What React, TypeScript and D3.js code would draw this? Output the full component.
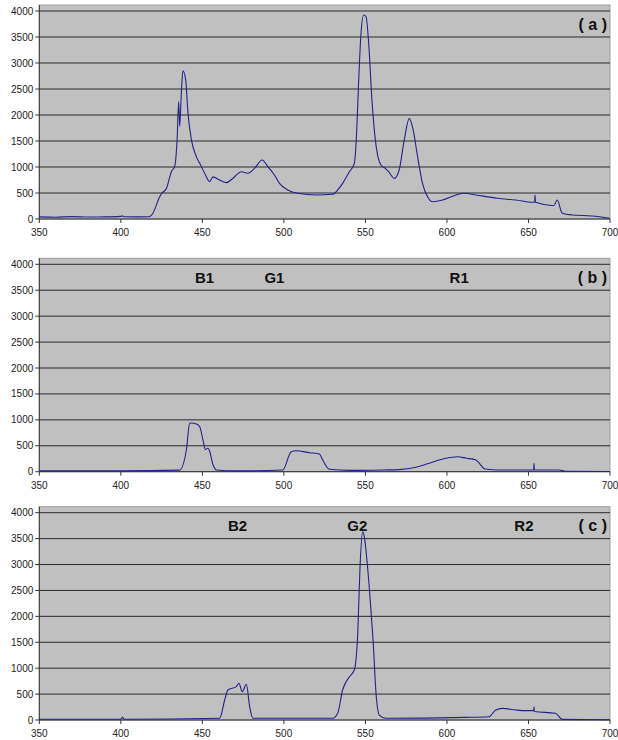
import React from "react";
import * as d3 from "d3";

// three emission spectra, wavelength (nm) vs intensity
const waveA = [350, 360, 370, 380, 390, 400, 401, 402, 410, 417, 419, 421, 423, 425, 428, 431, 433, 434.5, 435.5, 436.1, 437.1, 438.1, 439.8, 441.2, 443.3, 446.3, 448.4, 451.4, 454.5, 456.5, 460.6, 464.7, 468.7, 473.9, 477.9, 482, 486.7, 490.2, 494.2, 497.3, 502.4, 508.5, 519.8, 530, 533, 536, 540.2, 543.2, 544.6, 545.8, 547.3, 548.9, 550.4, 552, 554, 556.1, 559.5, 562.2, 564.2, 567.7, 570.7, 573.8, 576.9, 579.3, 582, 585, 588.1, 591.2, 597.3, 605.5, 611, 617.7, 631, 642.2, 652.3, 653.8, 654, 654.3, 665.6, 667.6, 670.7, 676.8, 689, 700];
const intensA = [40, 35, 45, 38, 40, 50, 60, 42, 40, 42, 80, 200, 370, 490, 590, 910, 1006, 1520, 2260, 1780, 2420, 2850, 2670, 2030, 1520, 1200, 1070, 880, 720, 810, 750, 700, 780, 910, 880, 975, 1135, 1006, 846, 686, 558, 494, 462, 475, 558, 686, 910, 1071, 1648, 2610, 3571, 3923, 3890, 3379, 2288, 1519, 1038, 975, 910, 782, 942, 1519, 1936, 1711, 1198, 686, 429, 333, 365, 462, 494, 462, 398, 365, 321, 321, 460, 321, 256, 365, 110, 77, 58, 13];

const waveB = [350, 400, 436, 440.2, 442.2, 443.3, 446.3, 448.4, 450.4, 451.8, 453.4, 454.2, 456.5, 458.6, 470, 499.3, 504.5, 507.5, 515.7, 521.8, 523.8, 528, 540, 560.6, 570.7, 581, 589.1, 599.3, 606.4, 612, 617.7, 623.4, 632, 653.2, 653.4, 653.6, 668.7, 672.8, 700];
const intensB = [15, 15, 30, 418, 933, 940, 920, 868, 611, 430, 451, 420, 140, 33, 15, 33, 386, 405, 367, 341, 226, 46, 25, 33, 40, 85, 162, 258, 289, 260, 226, 52, 33, 35, 162, 35, 33, 8, 5];

const waveC = [350, 400, 401, 402, 460.6, 463.7, 465.7, 470.8, 472.4, 474.5, 477, 479, 481, 530, 533, 536, 540.2, 543.2, 545.3, 546.7, 548.3, 549.3, 551.3, 553.4, 554.8, 556.5, 558.5, 562.6, 611.6, 625.8, 629.9, 634, 642.2, 648.3, 653.2, 653.4, 653.6, 666.6, 670.7, 700];
const intensC = [15, 15, 50, 15, 33, 386, 579, 643, 708, 546, 689, 257, 33, 33, 129, 579, 836, 965, 1673, 2958, 3633, 3537, 2958, 2122, 1480, 515, 96, 33, 50, 64, 193, 225, 193, 180, 180, 257, 165, 129, 13, 5];

const xTicks = [350, 400, 450, 500, 550, 600, 650, 700];
const yTicks = [0, 500, 1000, 1500, 2000, 2500, 3000, 3500, 4000];

const panelTags = ["( a )", "( b )", "( c )"];
const peakNamesB = ["B1", "G1", "R1"];
const peakWavesB = [451.4, 494.2, 607.5];
const peakNamesC = ["B2", "G2", "R2"];
const peakWavesC = [471.6, 545, 647.2];

const W = 618, H = 740;
const left = 39.3, right = 610;
const font = "Arial, Liberation Sans, sans-serif";

function Panel({ top, bottom, waves, values, tag, names, spots }) {
  const x = d3.scaleLinear().domain([350, 700]).range([left, right]);
  const y = d3.scaleLinear().domain([0, 4000]).range([bottom, top]);
  const pts = waves.map((w, i) => [w, values[i]]);
  const line = d3.line().x(d => x(d[0])).y(d => y(d[1])).curve(d3.curveMonotoneX);
  const labelY = top + 18.5;
  return (
    <g>
      <rect x={left} y={top - 6} width={right - left} height={bottom - top + 6} fill="#c0c0c0" stroke="#a0a0a0" strokeWidth={1} />
      {yTicks.map(t => (
        <g key={t}>
          <line x1={left} x2={right} y1={y(t)} y2={y(t)} stroke="#2a2a2a" strokeWidth={1} />
          <line x1={left - 4} x2={left} y1={y(t)} y2={y(t)} stroke="#333" />
          <text x={left - 6} y={y(t) + 3.5} textAnchor="end" fontSize={10} fill="#222" fontFamily={font}>{t}</text>
        </g>
      ))}
      <line x1={left} x2={left} y1={top - 6} y2={bottom} stroke="#333" />
      {xTicks.map(t => (
        <g key={t}>
          <line x1={x(t)} x2={x(t)} y1={bottom} y2={bottom + 4} stroke="#333" />
          <text x={x(t)} y={bottom + 17} textAnchor="middle" fontSize={10} fill="#222" fontFamily={font}>{t}</text>
        </g>
      ))}
      <path d={line(pts)} fill="none" stroke="#22228a" strokeWidth={1.1} />
      <text x={right - 3} y={labelY} textAnchor="end" fontSize={16} fontWeight="bold" fill="#111" fontFamily={font} style={{ whiteSpace: "pre" }}>{tag}</text>
      {names.map((n, i) => (
        <text key={n} x={x(spots[i])} y={labelY} textAnchor="middle" fontSize={15} fontWeight="bold" fill="#111" fontFamily={font}>{n}</text>
      ))}
    </g>
  );
}

export default function App() {
  return (
    <div style={{ position: "absolute", left: 0, top: 0 }}>
      <svg width={W} height={H} style={{ display: "block", background: "#fff" }}>
        <Panel top={11} bottom={219} waves={waveA} values={intensA} tag={panelTags[0]} names={[]} spots={[]} />
        <Panel top={264.3} bottom={471.7} waves={waveB} values={intensB} tag={panelTags[1]} names={peakNamesB} spots={peakWavesB} />
        <Panel top={512.7} bottom={720} waves={waveC} values={intensC} tag={panelTags[2]} names={peakNamesC} spots={peakWavesC} />
      </svg>
    </div>
  );
}
